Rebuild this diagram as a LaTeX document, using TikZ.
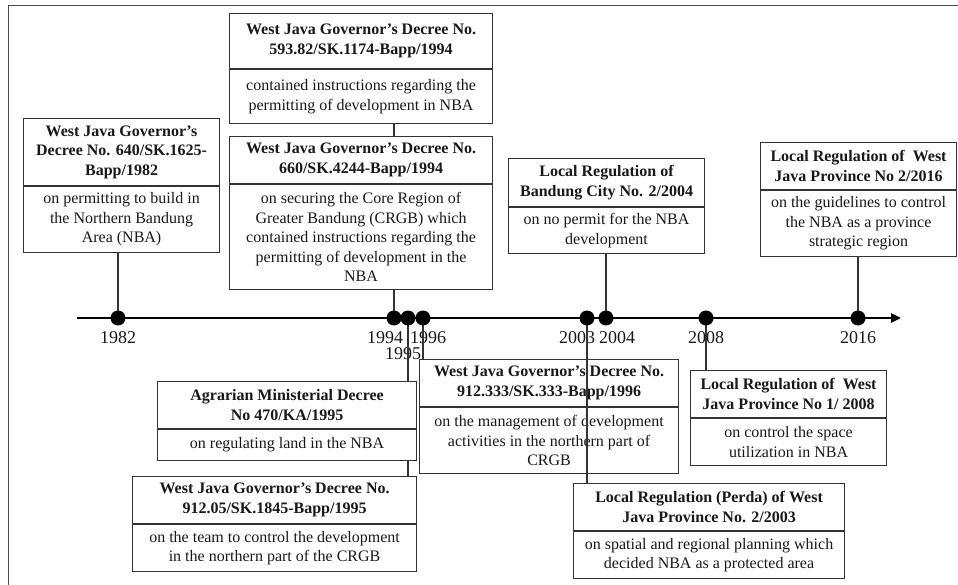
\documentclass[tikz,border=0pt]{standalone}
\usepackage{fontspec}
\setmainfont{Liberation Serif}
\usetikzlibrary{arrows.meta}
\tikzset{
  cell/.style={draw=black!80, line width=1.1pt, fill=white, inner xsep=3pt, inner ysep=0pt,
    align=center, text=black!90},
  titlecell/.style={cell, font=\fontsize{16}{19.5}\selectfont\bfseries, anchor=north west},
  bodycell/.style={cell, font=\fontsize{16}{19.5}\selectfont, anchor=north},
  link/.style={draw=black!80, line width=1.1pt},
  axisline/.style={line width=2.8pt, -{Triangle[length=10pt,width=9pt]}},
  yeardot/.style={circle, fill=black, minimum size=15pt, inner sep=0pt},
  yearlabel/.style={font=\fontsize{18}{20}\selectfont, anchor=base, text=black!90, inner sep=0pt},
  framelines/.style={draw=black!70, line width=1pt}
}
\newcommand{\lawbox}[8]{%
  \node[titlecell, minimum width=#4pt, minimum height=#5pt] (#1t) at (#2,-#3) {#7};
  \node[bodycell, minimum width=#4pt, minimum height=#6pt] (#1b) at (#1t.south) {#8};
}
\begin{document}
\begin{tikzpicture}[x=1pt,y=1pt]
\useasboundingbox (0,0) rectangle (958,-585);
\fill[white] (0,0) rectangle (958,-585);
\draw[framelines] (8,-585) -- (8,-6) -- (958,-6);

% positions of the years on the axis
\coordinate (p1982) at (118,-318);
\coordinate (p1994) at (394,-318);
\coordinate (p1995) at (408,-318);
\coordinate (p1996) at (423,-318);
\coordinate (p2003) at (587,-318);
\coordinate (p2004) at (606,-318);
\coordinate (p2008) at (706,-318);
\coordinate (p2016) at (858,-318);

% axis
\coordinate (axs) at (77,-318);
\coordinate (axe) at (901,-318);
\draw[axisline] (axs) -- (axe);

% year labels
\node[yearlabel] (y1982) at (118,-343) {1982};
\node[yearlabel] (y1994) at (385,-343) {1994};
\node[yearlabel] (y1996) at (428,-343) {1996};
\node[yearlabel] (y1995) at (403,-359) {1995};
\node[yearlabel] (y2003) at (577,-343) {2003};
\node[yearlabel] (y2004) at (617,-343) {2004};
\node[yearlabel] (y2008) at (706,-343) {2008};
\node[yearlabel] (y2016) at (858,-343) {2016};

% boxes
\lawbox{a}{23}{118}{196}{67}{66}{West Java Governor’s\\Decree No. 640/SK.1625-\\Bapp/1982}{on permitting to build in\\the Northern Bandung\\Area (NBA)}
\lawbox{b}{229}{13}{263}{55}{54}{West Java Governor’s Decree No.\\593.82/SK.1174-Bapp/1994}{contained instructions regarding the\\permitting of development in NBA}
\lawbox{c}{229}{136}{263}{47}{105}{West Java Governor’s Decree No.\\660/SK.4244-Bapp/1994}{on securing the Core Region of\\Greater Bandung (CRGB) which\\contained instructions regarding the\\permitting of development in the\\NBA}
\lawbox{d}{508}{158}{196}{48}{46}{Local Regulation of\\Bandung City No. 2/2004}{on no permit for the NBA\\development}
\lawbox{e}{760}{142}{196}{47}{66}{Local Regulation of\ \ West\\Java Province No 2/2016}{on the guidelines to control\\the NBA as a province\\strategic region}
\lawbox{f}{157}{381}{259}{47}{31}{Agrarian Ministerial Decree\\No 470/KA/1995}{on regulating land in the NBA}
\lawbox{g}{132}{476}{284}{47}{47}{West Java Governor’s Decree No.\\912.05/SK.1845-Bapp/1995}{on the team to control the development\\in the northern part of the CRGB}
\lawbox{h}{419}{359}{259}{47}{66}{West Java Governor’s Decree No.\\912.333/SK.333-Bapp/1996}{on the management of development\\activities in the northern part of\\CRGB}
\lawbox{i}{573}{483}{271}{47}{47}{Local Regulation (Perda) of West\\Java Province No. 2/2003}{on spatial and regional planning which\\decided NBA as a protected area}
\lawbox{j}{690}{370}{196}{47}{47}{Local Regulation of\ \ West\\Java Province No 1/ 2008}{on control the space\\utilization in NBA}

% connectors
\draw[link] (p1982) -- (p1982 |- ab.south);
\draw[link] (p1994 |- bb.south) -- (p1994 |- ct.north);
\draw[link] (p1994) -- (p1994 |- cb.south);
\draw[link] (p1995) -- (p1995 |- ft.north);
\draw[link] (p1995 |- fb.south) -- (p1995 |- gt.north);
\draw[link] (p1996) -- (p1996 |- ht.north);
\draw[link] (p2003) -- (p2003 |- it.north);
\draw[link] (p2004) -- (p2004 |- db.south);
\draw[link] (p2008) -- (p2008 |- jt.north);
\draw[link] (p2016) -- (p2016 |- eb.south);

% dots
\node[yeardot] (d1982) at (p1982) {};
\node[yeardot] (d1994) at (p1994) {};
\node[yeardot] (d1995) at (p1995) {};
\node[yeardot] (d1996) at (p1996) {};
\node[yeardot] (d2003) at (p2003) {};
\node[yeardot] (d2004) at (p2004) {};
\node[yeardot] (d2008) at (p2008) {};
\node[yeardot] (d2016) at (p2016) {};
\end{tikzpicture}
\end{document}
